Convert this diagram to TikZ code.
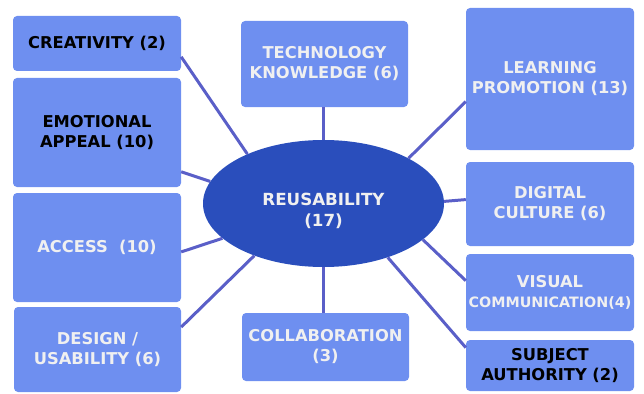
\documentclass[tikz,border=0pt]{standalone}
\usepackage{fontspec}
\setmainfont{DejaVu Sans}
\usepackage{xcolor}
\usetikzlibrary{shapes.geometric}
\definecolor{boxblue}{RGB}{110,143,240}
\definecolor{hubblue}{RGB}{42,78,188}
\definecolor{linkblue}{RGB}{90,95,200}

\begin{document}
\begin{tikzpicture}
  [x=1pt,y=-1pt,
   box/.style={rectangle,rounded corners=4pt,fill=boxblue,text=white!94!black,
     font=\bfseries\fontsize{16.3}{20}\selectfont,align=center,inner sep=0pt},
   dark/.style={text=black},
   hub/.style={ellipse,fill=hubblue,inner sep=0pt,
     minimum width=241pt,minimum height=127pt},
   hubtext/.style={text=white!94!black,inner sep=0pt,
     font=\bfseries\fontsize{16.7}{21}\selectfont,align=center}]
  \useasboundingbox (0,0) rectangle (644,393);

  \node[hub] (hub) at (323.5,203.5) {};
  \node[hubtext] (hubname) at ([yshift=-7pt]hub.center) {REUSABILITY\\(17)};

  % left column
  \node[box,dark,minimum width=168pt,minimum height=55pt] (creat) at (97,43.5) {CREATIVITY (2)};
  \node[box,dark,minimum width=168pt,minimum height=109pt] (emot) at (97,132.5) {EMOTIONAL\\APPEAL (10)};
  \node[box,minimum width=168pt,minimum height=109pt] (access) at (97,247.5) {ACCESS~ (10)};
  \node[box,minimum width=167pt,minimum height=85pt] (design) at (97.5,349.5) {DESIGN /\\USABILITY (6)};

  % middle column
  \node[box,minimum width=167pt,minimum height=86pt] (tech) at (324.5,64) {TECHNOLOGY\\KNOWLEDGE (6)};
  \node[box,minimum width=167pt,minimum height=68pt] (collab) at (325.5,347) {COLLABORATION\\(3)};

  % right column
  \node[box,minimum width=168pt,minimum height=142pt] (learn) at (550,79) {LEARNING\\PROMOTION (13)};
  \node[box,minimum width=168pt,minimum height=84pt] (digital) at (550,204) {DIGITAL\\CULTURE (6)};
  \node[box,minimum width=168pt,minimum height=77pt] (visual) at (550,292.5)
    {VISUAL\\{\fontsize{14.3}{18}\selectfont COMMUNICATION(4)}};
  \node[box,dark,minimum width=168pt,minimum height=51pt] (subject) at (550,365.5) {SUBJECT\\AUTHORITY (2)};

  \foreach \from/\to in {creat.-9/hub.147, emot.-25/hub.169, access.-3/hub.-161,
      design.15/hub.-143, learn.195/hub.28.5, digital.177/hub.1.7,
      visual.172/hub.-20.5, subject.168/hub.-40.5}
    \draw[line width=3pt,linkblue] (\from) -- (\to);
  \draw[line width=3pt,linkblue] (hub.north) -- (hub.north |- tech.south);
  \draw[line width=3pt,linkblue] (hub.south) -- (hub.south |- collab.north);

\end{tikzpicture}
\end{document}
